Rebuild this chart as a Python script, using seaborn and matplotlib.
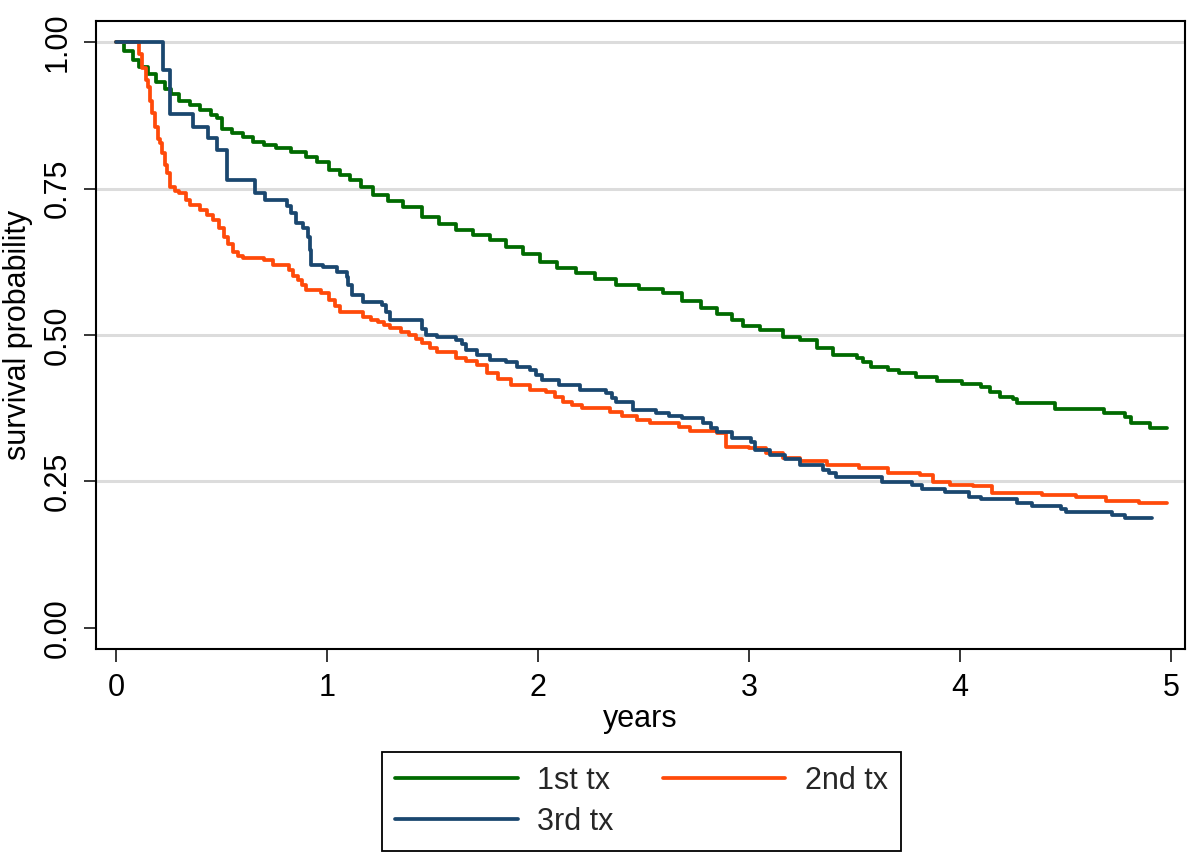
import numpy as np
import pandas as pd
import matplotlib
matplotlib.use('Agg')
import matplotlib.pyplot as plt
import seaborn as sns

# survival curves (time in years, survival after each drop)
t_1st = [0, 0.04, 0.08, 0.11, 0.15, 0.19, 0.23, 0.26, 0.30, 0.35, 0.40, 0.45, 0.48,
         0.50, 0.55, 0.60, 0.65, 0.70, 0.76, 0.83, 0.90, 0.95, 1.01, 1.06, 1.11, 1.16,
         1.22, 1.29, 1.36, 1.45, 1.53, 1.61, 1.69, 1.77, 1.85, 1.93, 2.01, 2.09, 2.18,
         2.27, 2.37, 2.48, 2.59, 2.68, 2.77, 2.85, 2.92, 2.97, 3.05, 3.16, 3.24, 3.32,
         3.40, 3.51, 3.54, 3.58, 3.66, 3.71, 3.79, 3.89, 4.01, 4.10, 4.14, 4.19, 4.25,
         4.27, 4.45, 4.68, 4.78, 4.81, 4.90, 4.98]
s_1st = [1.0, 0.985, 0.97, 0.957, 0.945, 0.932, 0.92, 0.912, 0.90, 0.892, 0.884, 0.876,
         0.870, 0.852, 0.845, 0.838, 0.829, 0.825, 0.819, 0.812, 0.804, 0.795, 0.782,
         0.773, 0.764, 0.752, 0.739, 0.729, 0.719, 0.701, 0.690, 0.679, 0.670, 0.662,
         0.650, 0.638, 0.625, 0.615, 0.605, 0.595, 0.585, 0.578, 0.571, 0.558, 0.546,
         0.536, 0.526, 0.515, 0.508, 0.497, 0.491, 0.478, 0.466, 0.461, 0.454, 0.446,
         0.440, 0.435, 0.428, 0.421, 0.416, 0.411, 0.403, 0.394, 0.390, 0.384, 0.374,
         0.367, 0.360, 0.350, 0.341, 0.341]

t_2nd = [0, 0.11, 0.125, 0.14, 0.15, 0.16, 0.17, 0.185, 0.20, 0.21, 0.22, 0.23, 0.24,
         0.256, 0.28, 0.30, 0.33, 0.35, 0.40, 0.43, 0.46, 0.49, 0.51, 0.53, 0.555, 0.58,
         0.60, 0.70, 0.745, 0.82, 0.84, 0.86, 0.88, 0.90, 0.97, 1.01, 1.04, 1.06, 1.17,
         1.21, 1.24, 1.27, 1.30, 1.35, 1.39, 1.42, 1.45, 1.49, 1.52, 1.61, 1.66, 1.71,
         1.76, 1.81, 1.87, 1.96, 2.04, 2.08, 2.12, 2.16, 2.21, 2.34, 2.40, 2.47, 2.53,
         2.67, 2.72, 2.85, 2.89, 3.00, 3.08, 3.16, 3.24, 3.37, 3.52, 3.66, 3.81, 3.87,
         3.95, 4.06, 4.15, 4.39, 4.55, 4.69, 4.85, 4.98]
s_2nd = [1.0, 0.98, 0.955, 0.935, 0.923, 0.90, 0.879, 0.855, 0.835, 0.828, 0.81, 0.79,
         0.776, 0.753, 0.745, 0.742, 0.73, 0.722, 0.713, 0.705, 0.696, 0.683, 0.667,
         0.655, 0.642, 0.635, 0.631, 0.628, 0.62, 0.611, 0.60, 0.594, 0.585, 0.577,
         0.572, 0.56, 0.55, 0.539, 0.53, 0.525, 0.522, 0.517, 0.512, 0.505, 0.50, 0.493,
         0.486, 0.478, 0.471, 0.461, 0.455, 0.449, 0.435, 0.425, 0.415, 0.406, 0.403,
         0.395, 0.386, 0.380, 0.375, 0.369, 0.362, 0.355, 0.35, 0.343, 0.336, 0.333,
         0.309, 0.307, 0.298, 0.290, 0.285, 0.278, 0.273, 0.265, 0.261, 0.249, 0.244,
         0.242, 0.23, 0.227, 0.224, 0.217, 0.213, 0.213]

t_3rd = [0, 0.222, 0.256, 0.366, 0.437, 0.48, 0.525, 0.66, 0.705, 0.81, 0.83, 0.855,
         0.886, 0.91, 0.918, 0.926, 0.98, 1.046, 1.093, 1.10, 1.12, 1.17, 1.26, 1.28,
         1.30, 1.45, 1.47, 1.52, 1.61, 1.64, 1.66, 1.71, 1.77, 1.85, 1.90, 1.96, 1.99,
         2.02, 2.10, 2.20, 2.32, 2.35, 2.37, 2.45, 2.56, 2.62, 2.68, 2.78, 2.82, 2.85,
         2.92, 3.01, 3.03, 3.10, 3.17, 3.24, 3.35, 3.38, 3.41, 3.63, 3.77, 3.82, 3.93,
         4.04, 4.10, 4.27, 4.34, 4.48, 4.50, 4.72, 4.78, 4.91]
s_3rd = [1.0, 0.952, 0.877, 0.855, 0.836, 0.816, 0.765, 0.742, 0.73, 0.72, 0.708, 0.691,
         0.683, 0.667, 0.645, 0.62, 0.616, 0.607, 0.599, 0.585, 0.568, 0.556, 0.551,
         0.54, 0.526, 0.51, 0.50, 0.497, 0.491, 0.485, 0.474, 0.466, 0.457, 0.454, 0.445,
         0.44, 0.432, 0.423, 0.415, 0.406, 0.401, 0.393, 0.386, 0.372, 0.367, 0.362,
         0.358, 0.35, 0.342, 0.334, 0.324, 0.317, 0.304, 0.295, 0.288, 0.278, 0.27,
         0.264, 0.258, 0.249, 0.244, 0.237, 0.232, 0.224, 0.22, 0.213, 0.208, 0.203,
         0.198, 0.193, 0.188, 0.188]

groups = ['1st tx', '2nd tx', '3rd tx']
colors = {'1st tx': '#006a00', '2nd tx': '#ff4a0a', '3rd tx': '#1a476f'}

df = pd.concat([
    pd.DataFrame({'years': t_1st, 'surv': s_1st, 'group': '1st tx'}),
    pd.DataFrame({'years': t_2nd, 'surv': s_2nd, 'group': '2nd tx'}),
    pd.DataFrame({'years': t_3rd, 'surv': s_3rd, 'group': '3rd tx'}),
])

sns.set_theme(style='white')
plt.rcParams['font.family'] = ['Liberation Sans', 'DejaVu Sans']

fig = plt.figure(figsize=(12, 8.67), dpi=100)
ax = fig.add_axes([0.08, 0.2514, 0.9075, 0.7244])

sns.lineplot(data=df, x='years', y='surv', hue='group', hue_order=groups,
             palette=colors, estimator=None, drawstyle='steps-post',
             linewidth=2.7, legend=False, ax=ax)

ax.set_xlim(-0.095, 5.066)
ax.set_ylim(-0.036, 1.036)
ax.set_xticks([0, 1, 2, 3, 4, 5])
ax.set_yticks([0, 0.25, 0.5, 0.75, 1.0])
ax.set_yticklabels(['0.00', '0.25', '0.50', '0.75', '1.00'], rotation=90, va='center')

ax.yaxis.grid(True, color='#dcdcdc', linewidth=2.2)
ax.get_ygridlines()[0].set_visible(False)
ax.set_axisbelow(True)

for sp in ax.spines.values():
    sp.set_color('black')
    sp.set_linewidth(1.5)

ax.tick_params(axis='both', which='major', direction='out', length=9, width=1.1,
               color='black', labelsize=22, labelcolor='black', bottom=True, left=True)
ax.tick_params(axis='x', pad=8)
ax.tick_params(axis='y', pad=8)

ax.set_xlabel('years', fontsize=22, labelpad=1, color='black')
ax.set_ylabel('survival probability', fontsize=22, labelpad=7, color='black')

lines = ax.get_lines()
handles = [lines[0], lines[2], lines[1]]
labels = ['1st tx', '3rd tx', '2nd tx']
leg = fig.legend(handles, labels, loc='center', bbox_to_anchor=(641.5 / 1200, 1 - 801.5 / 867),
                 ncol=2, fontsize=22, handlelength=4, handletextpad=0.65,
                 columnspacing=1.6, labelspacing=0.35, borderpad=0.45,
                 fancybox=False, frameon=True, framealpha=1)
leg.get_frame().set_edgecolor('black')
leg.get_frame().set_linewidth(1.3)

fig.savefig('out.png', dpi=100)
